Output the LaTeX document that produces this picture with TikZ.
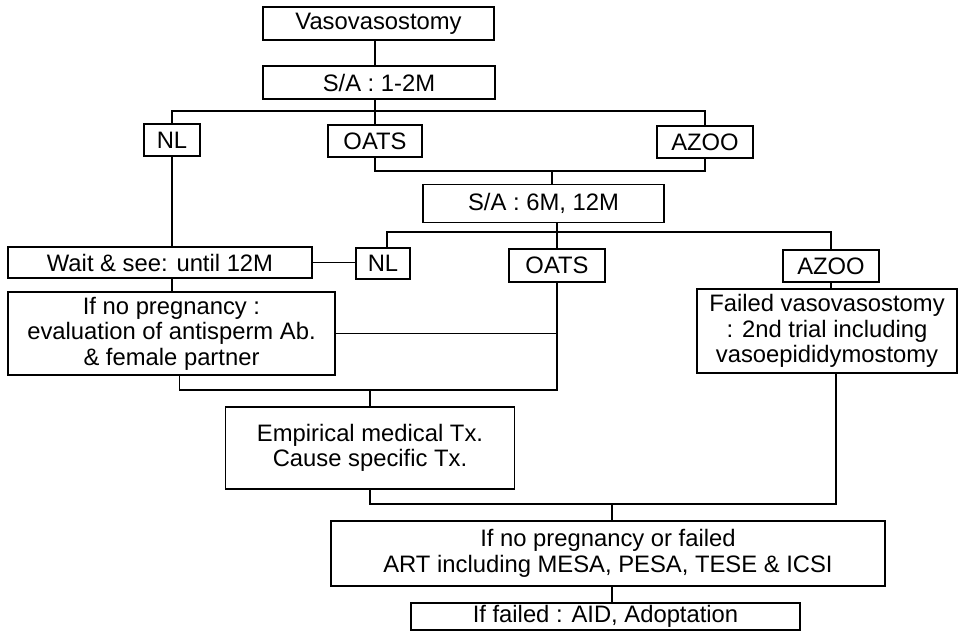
\documentclass[tikz,border=0pt]{standalone}
\usepackage{fontspec}
\setmainfont{Liberation Sans}
\usepackage{tikz}
\usetikzlibrary{calc}

\begin{document}
\begin{tikzpicture}[x=0.5pt, y=-0.5pt, font=\fontsize{11.9}{12.8}\selectfont]

  \tikzset{
    flowbox/.style 2 args={rectangle, draw=black, line width=0.6pt,
      minimum width=#1*0.5pt, minimum height=#2*0.5pt,
      inner sep=0pt, align=center},
    link/.style={line width=0.7pt}
  }

  \useasboundingbox (0,0) rectangle (959,631);

  % first follow-up
  \node[flowbox={231}{33}] (vaso) at (378.5, 23.5) {Vasovasostomy};
  \node[flowbox={232}{33}] (sa1) at (379, 82.5) {S/A : 1-2M};
  \node[flowbox={56}{32}] (nl1) at (172, 140) {NL};
  \node[flowbox={94}{32}] (oats1) at (375, 141) {OATS};
  \node[flowbox={96}{32}] (azoo1) at (705, 142) {AZOO};
  \node[flowbox={241}{38}] (sa2) at (543.5, 203.5) {S/A : 6M, 12M};

  % second follow-up
  \node[flowbox={304}{31}] (wait) at (160, 262.5) {Wait \& see: until 12M};
  \node[flowbox={54}{31}] (nl2) at (383, 263.5) {NL};
  \node[flowbox={96}{33}] (oats2) at (557, 265.5) {OATS};
  \node[flowbox={96}{32}] (azoo2) at (831, 266) {AZOO};
  \node[flowbox={327}{83}] (nopreg) at (171.5, 333.5)
    {If no pregnancy :\\evaluation of antisperm Ab.\\\& female partner};
  \node[flowbox={260}{84}] (failed) at (827, 331)
    {Failed vasovasostomy\\: 2nd trial including\\vasoepididymostomy};

  % treatment
  \node[flowbox={289}{82}] (medtx) at (370, 448)
    {Empirical medical Tx.\\Cause specific Tx.};
  \node[flowbox={554}{65}] (art) at (608, 553.5)
    {If no pregnancy or failed\\ART including MESA, PESA, TESE \& ICSI};
  \node[flowbox={389}{27}] (last) at (605.5, 616.5)
    {If failed : AID, Adoptation};

  % bus points
  \coordinate (bus1) at (375, 111);
  \coordinate (bus2) at (552, 171);
  \coordinate (bus3) at (557, 232);
  \coordinate (bus4) at (370, 390);
  \coordinate (bus5) at (612, 504);

  \draw[link] (vaso.south -| bus1) -- (sa1.north -| bus1);
  \draw[link] (sa1.south -| bus1) -- (oats1.north);
  \draw[link] (nl1.north) |- (bus1) -| (azoo1.north);
  \draw[link] (oats1.south) |- (bus2) -| (azoo1.south);
  \draw[link] (bus2) -- (bus2 |- sa2.north);
  \draw[link] (sa2.south -| bus3) -- (oats2.north);
  \draw[link] ([xshift=2pt]nl2.north) |- (bus3) -| (azoo2.north);

  \draw[link] (nl1.south) -- (wait.north -| nl1.south);
  \draw[link] (wait.east) -- (wait.east -| nl2.west);
  \draw[link] (wait.south -| nl1) -- (nopreg.north -| nl1);
  \draw[link] (azoo2.south) -- (failed.north -| azoo2);

  \draw[link] (nopreg.east) -- (nopreg.east -| oats2.south);
  \draw[link] ([xshift=4pt]nopreg.south) |- (bus4) -| (oats2.south);
  \draw[link] (bus4) -- (medtx.north);
  \draw[link] (medtx.south) |- (bus5) -| ([xshift=4.5pt]failed.south);
  \draw[link] (bus5) -- (bus5 |- art.north);
  \draw[link] (art.south -| bus5) -- (last.north -| bus5);

\end{tikzpicture}
\end{document}
